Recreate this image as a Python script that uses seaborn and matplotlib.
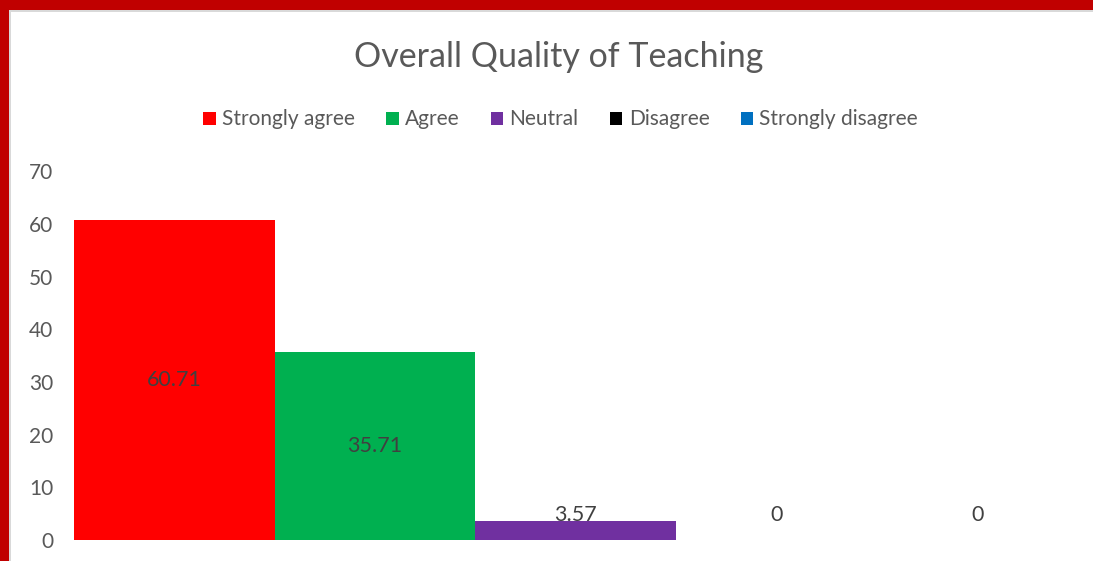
import matplotlib
matplotlib.use('Agg')
import matplotlib.pyplot as plt
import seaborn as sns
from matplotlib.patches import Patch, Rectangle

# Chart data
categories = ['Strongly agree', 'Agree', 'Neutral', 'Disagree', 'Strongly disagree']
values = [60.71, 35.71, 3.57, 0, 0]
value_labels = ['60.71', '35.71', '3.57', '0', '0']
colors = ['#FF0000', '#00B050', '#7030A0', '#000000', '#0070C0']
y_ticks = [0, 10, 20, 30, 40, 50, 60, 70]

sns.set_theme(style='white')
plt.rcParams['font.family'] = ['Lato', 'DejaVu Sans']
text_grey = '#595959'

fig = plt.figure(figsize=(10.93, 5.61), dpi=100)
ax = fig.add_axes([0.0677, 0.0374, 0.9183, 0.6576])

sns.barplot(x=categories, y=values, hue=categories, palette=colors,
            width=1.0, legend=False, ax=ax, saturation=1, order=categories,
            linewidth=0)

ax.set_xlim(-0.5, 4.5)
ax.set_ylim(0, 70)
ax.set_yticks(y_ticks)
ax.set_yticklabels([str(t) for t in y_ticks], fontsize=15, color=text_grey)
ax.tick_params(axis='y', length=0, pad=15)
ax.set_xticks([])
ax.set_xlabel('')
ax.set_ylabel('')
for s in ax.spines.values():
    s.set_visible(False)
ax.grid(False)

# data labels (centered, with a minimum height like the original)
for i, (v, lab) in enumerate(zip(values, value_labels)):
    ax.text(i, max(v / 2, 4.7), lab, ha='center', va='center',
            fontsize=15.5, color='#404040')

# title and legend
fig.text(0.511, 0.898, 'Overall Quality of Teaching', ha='center', va='center',
         fontsize=24.5, color=text_grey)
handles = [Patch(facecolor=c, edgecolor='none', label=l) for c, l in zip(colors, categories)]
fig.legend(handles=handles, loc='center', bbox_to_anchor=(0.513, 0.787), ncol=5,
           frameon=False, fontsize=15, handlelength=0.6, handleheight=0.6,
           handletextpad=0.3, columnspacing=1.5, labelcolor=text_grey)

# red frame on top and left edges
fig.patches.append(Rectangle((0, 0.982), 1, 0.018, transform=fig.transFigure,
                             facecolor='#C00000', edgecolor='none', zorder=5))
fig.patches.append(Rectangle((0, 0), 0.0082, 1, transform=fig.transFigure,
                             facecolor='#C00000', edgecolor='none', zorder=5))
fig.patches.append(Rectangle((0.0082, 0), 0.0018, 0.982, transform=fig.transFigure,
                             facecolor='#D9D9D9', edgecolor='none', zorder=5))
fig.patches.append(Rectangle((0.0082, 0.979), 0.9918, 0.003, transform=fig.transFigure,
                             facecolor='#D9D9D9', edgecolor='none', zorder=5))

fig.savefig('out.png', dpi=100)
